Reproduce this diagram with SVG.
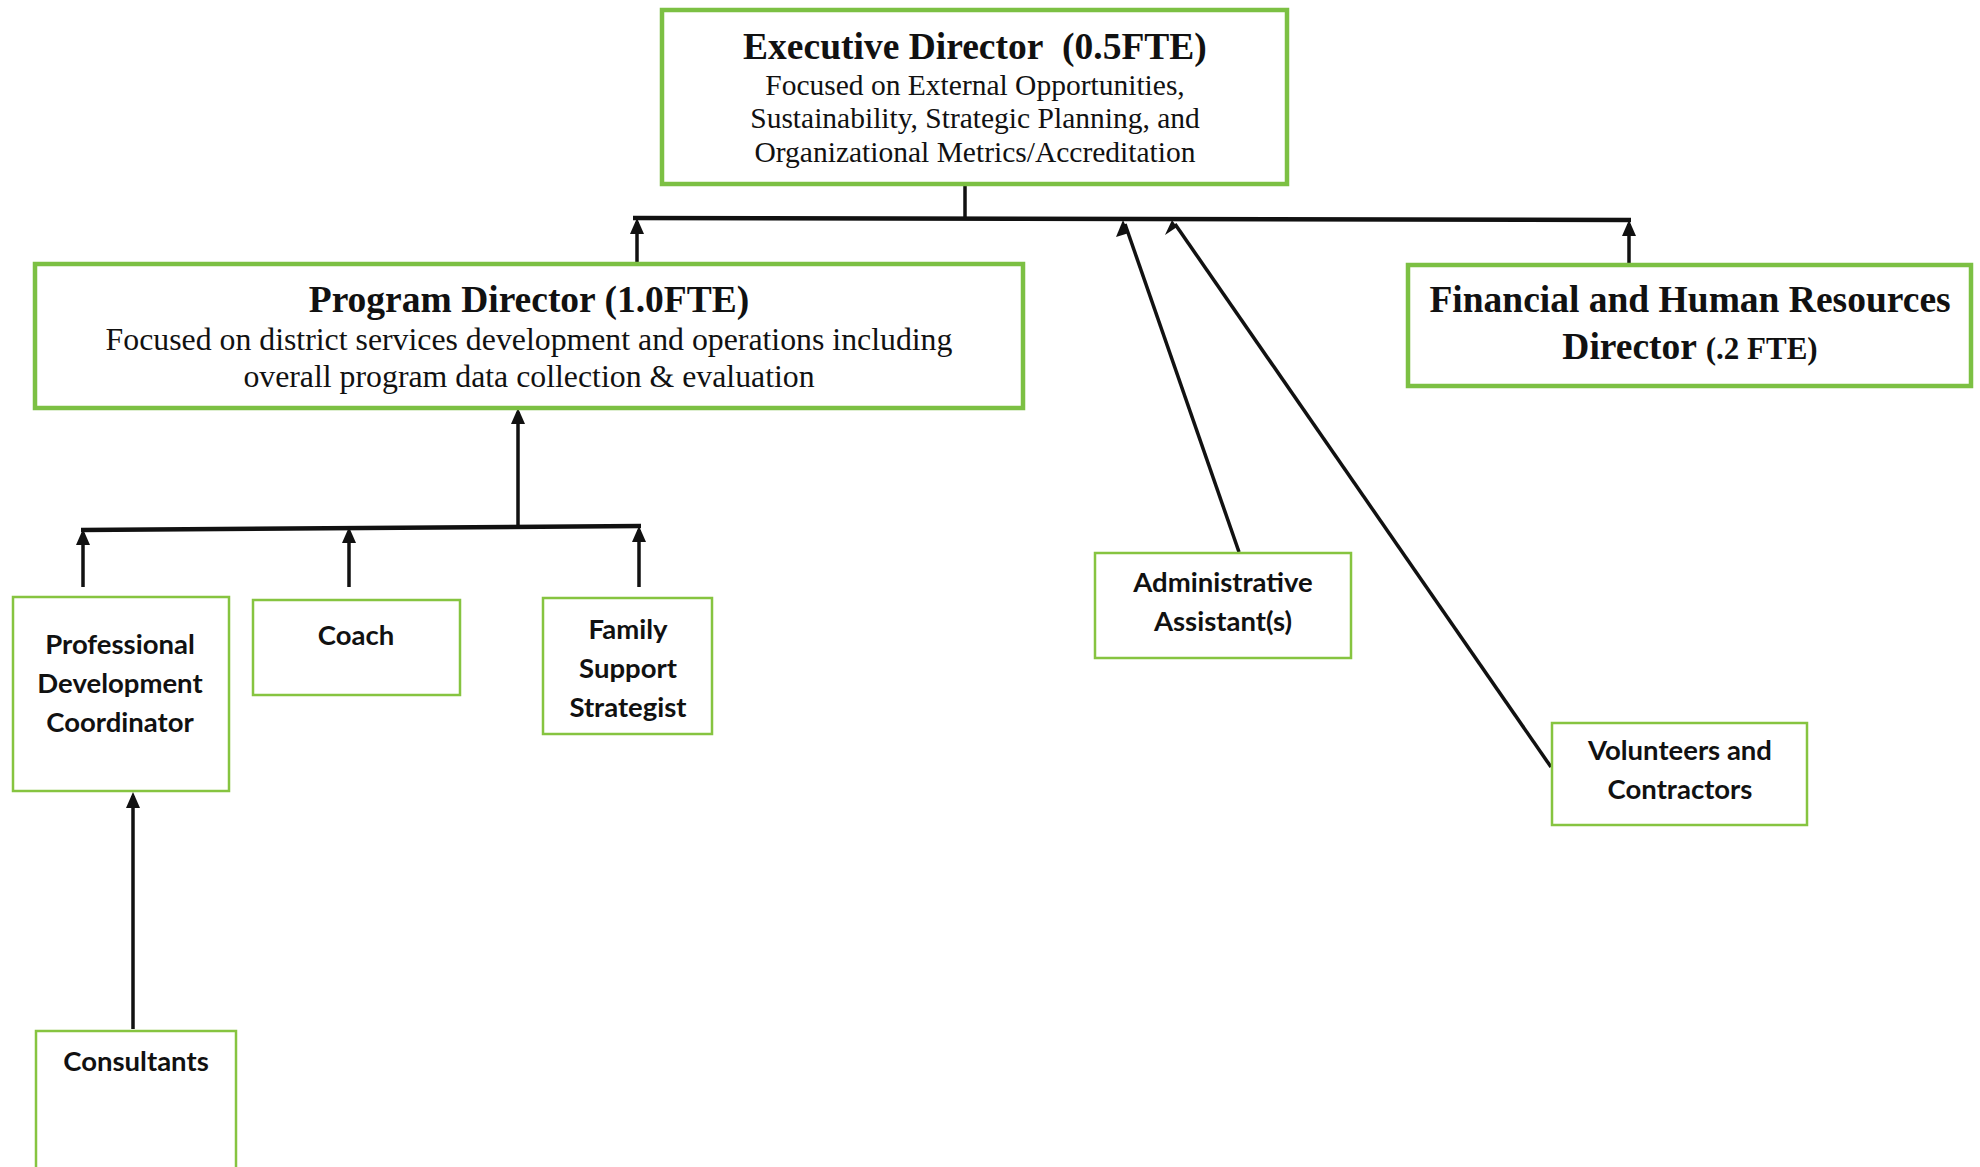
<svg xmlns="http://www.w3.org/2000/svg" width="1980" height="1167" viewBox="0 0 1980 1167">
<style>
.big{fill:#fff;stroke:#7cc043;stroke-width:4.5}
.small{fill:#fff;stroke:#86c440;stroke-width:2.5}
.t{font-family:"Liberation Serif",serif;font-weight:bold;font-size:37.5px;fill:#111;text-anchor:middle}
.s{font-family:"Liberation Serif",serif;font-size:29.5px;fill:#111;text-anchor:middle}
.s2{font-family:"Liberation Serif",serif;font-size:31.8px;fill:#111;text-anchor:middle}
.c{font-family:Lato,"Liberation Sans",sans-serif;font-weight:bold;font-size:27.5px;fill:#111;text-anchor:middle}
.ln{fill:none;stroke:#111;stroke-width:3.5}
.hl{fill:none;stroke:#111;stroke-width:4.5}
.ah{fill:#111}
</style>
<rect width="1980" height="1167" fill="#fff"/>
<g id="connectors">
<line class="ln" x1="965" y1="184" x2="965" y2="218"/>
<line class="hl" x1="633" y1="218" x2="1631" y2="220"/>
<path class="ln" d="M637,262 L637,222"/>
<path class="ah" d="M630,234 L637,218 L644,234 Z"/>
<path class="ln" d="M1629,263 L1629,224"/>
<path class="ah" d="M1622,236 L1629,220 L1636,236 Z"/>
<path class="ln" d="M1239,552 L1125,224"/>
<path class="ah" d="M1116,237 L1123,220 L1129,233 Z"/>
<path class="ln" d="M1551,767 L1175,224"/>
<path class="ah" d="M1165,235 L1172,220 L1177,227 Z"/>
<path class="ln" d="M518,527 L518,412"/>
<path class="ah" d="M511,424 L518,408 L525,424 Z"/>
<line class="hl" x1="81" y1="530" x2="641" y2="526"/>
<path class="ln" d="M83,587 L83,533"/>
<path class="ah" d="M76,545 L83,529 L90,545 Z"/>
<path class="ln" d="M349,587 L349,532"/>
<path class="ah" d="M342,543 L349,527 L356,543 Z"/>
<path class="ln" d="M639,587 L639,530"/>
<path class="ah" d="M632,542 L639,526 L646,542 Z"/>
<path class="ln" d="M133,1029 L133,796"/>
<path class="ah" d="M126,808 L133,792 L140,808 Z"/>
</g>
<g id="executive-director">
<rect class="big" x="662" y="10" width="625" height="174"/>
<text class="t" x="975" y="59">Executive Director&#160; (0.5FTE)</text>
<text class="s" x="975" y="95">Focused on External Opportunities,</text>
<text class="s" x="975" y="128">Sustainability, Strategic Planning, and</text>
<text class="s" x="975" y="162">Organizational Metrics/Accreditation</text>
</g>
<g id="program-director">
<rect class="big" x="35" y="264" width="988" height="144"/>
<text class="t" x="529" y="312">Program Director (1.0FTE)</text>
<text class="s2" x="529" y="350">Focused on district services development and operations including</text>
<text class="s2" x="529" y="387">overall program data collection &amp; evaluation</text>
</g>
<g id="financial-hr-director">
<rect class="big" x="1408" y="265" width="563" height="121"/>
<text class="t" x="1690" y="312">Financial and Human Resources</text>
<text class="t" x="1690" y="359">Director <tspan font-size="31">(.2 FTE)</tspan></text>
</g>
<g id="pd-coordinator">
<rect class="small" x="13" y="597" width="216" height="194"/>
<text class="c" x="120" y="654">Professional</text>
<text class="c" x="120" y="693">Development</text>
<text class="c" x="120" y="732">Coordinator</text>
</g>
<g id="coach">
<rect class="small" x="253" y="600" width="207" height="95"/>
<text class="c" x="356" y="645">Coach</text>
</g>
<g id="family-support-strategist">
<rect class="small" x="543" y="598" width="169" height="136"/>
<text class="c" x="628" y="639">Family</text>
<text class="c" x="628" y="678">Support</text>
<text class="c" x="628" y="717">Strategist</text>
</g>
<g id="administrative-assistants">
<rect class="small" x="1095" y="553" width="256" height="105"/>
<text class="c" x="1223" y="592">Administrative</text>
<text class="c" x="1223" y="631">Assistant(s)</text>
</g>
<g id="volunteers-contractors">
<rect class="small" x="1552" y="723" width="255" height="102"/>
<text class="c" x="1680" y="760">Volunteers and</text>
<text class="c" x="1680" y="799">Contractors</text>
</g>
<g id="consultants">
<rect class="small" x="36" y="1031" width="200" height="145"/>
<text class="c" x="136" y="1071">Consultants</text>
</g>
</svg>
